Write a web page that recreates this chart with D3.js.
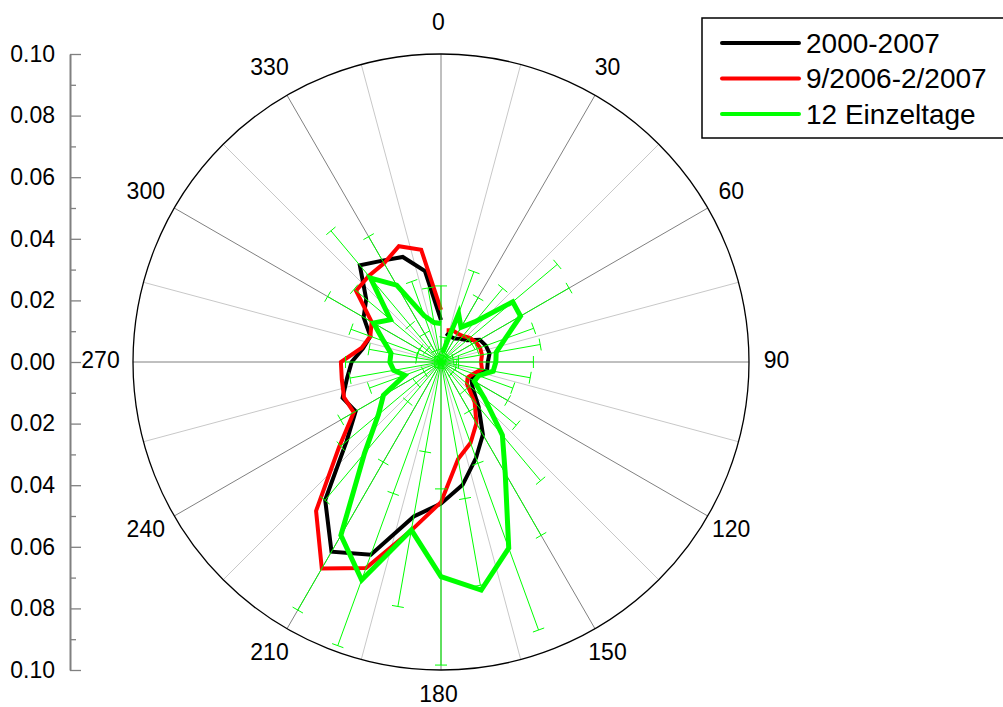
<!DOCTYPE html>
<html>
<head>
<meta charset="utf-8">
<script src="https://cdn.jsdelivr.net/npm/d3@7"></script>
<style>
  body { margin: 0; background: #fff; }
  text { font-family: "Liberation Sans", Arial, sans-serif; }
</style>
</head>
<body>
<svg id="chart" width="1003" height="707"></svg>
<script>
// Wind direction sectors (degrees, clockwise from north)
const angles = [10,20,30,40,50,60,70,80,90,100,110,120,130,140,150,160,170,180,
                190,200,210,220,230,240,250,260,270,280,290,300,310,320,330,340,350,360];

// Relative frequency per sector, 2000-2007
const freq2000to2007 = [0.0094,0.0088,0.0088,0.0098,0.011,0.0145,0.0155,0.016,0.0152,0.0152,0.0118,0.0114,
                        0.0135,0.019,0.0272,0.0332,0.0405,0.046,0.0509,0.0666,0.0711,0.0585,0.040,0.032,
                        0.034,0.031,0.029,0.0257,0.0244,0.029,0.0317,0.041,0.038,0.0363,0.030,0.0136];

// Relative frequency per sector, 9/2006-2/2007
const freq2006to2007 = [0.0105,0.011,0.0107,0.011,0.0122,0.013,0.0135,0.0135,0.013,0.0135,0.0112,0.010,
                        0.011,0.017,0.023,0.028,0.032,0.0455,0.0555,0.0712,0.0774,0.0631,0.0433,0.0327,
                        0.0335,0.0327,0.0325,0.0262,0.0244,0.026,0.036,0.0365,0.037,0.040,0.037,0.0169];

// Mean relative frequency of the 12 single days, with lower / upper bar limits
const freqDays = [0.003,0.0167,0.013,0.017,0.0304,0.0298,0.0222,0.0182,0.0178,0.0172,0.013,0.0125,
                  0.0185,0.031,0.0417,0.0643,0.0752,0.0697,0.0554,0.0753,0.065,0.0386,0.0265,0.0216,
                  0.0125,0.0156,0.0166,0.0165,0.0198,0.0253,0.0214,0.0356,0.0288,0.016,0.013,0.0125];
const freqDaysLow = [-0.002,0.0022,0.002,0.003,0.0114,0.0116,0.0124,0.004,0.0057,0.005,0.0012,0.000,
                     0.005,0.012,0.0184,0.035,0.045,0.0412,0.0296,0.0454,0.0375,0.0168,0.0105,0.0063,
                     0.000,0.001,0.002,0.008,0.008,0.008,0.006,0.0156,0.0106,0.004,0.002,0.0003];
const freqDaysHigh = [0.008,0.0312,0.0241,0.0312,0.0493,0.048,0.032,0.0327,0.030,0.0294,0.0248,0.025,
                      0.0319,0.0503,0.065,0.0926,0.0736,0.0984,0.0806,0.098,0.093,0.0586,0.0425,0.0376,
                      0.0247,0.030,0.031,0.0237,0.0311,0.0425,0.0368,0.0556,0.047,0.0278,0.0244,0.0247];

// Axis labels
const angleTicks = [0,30,60,90,120,150,180,210,240,270,300,330];
const radialMajor = [-0.10,-0.08,-0.06,-0.04,-0.02,0,0.02,0.04,0.06,0.08,0.10];
const radialMinor = [-0.09,-0.07,-0.05,-0.03,-0.01,0.01,0.03,0.05,0.07,0.09];

const seriesNames = ["2000-2007", "9/2006-2/2007", "12 Einzeltage"];
const seriesColors = ["#000000", "#ff0000", "#00ff00"];

const W = 1003, H = 707;
const svg = d3.select("#chart");
const cx = 441, cy = 362, R = 308;

const angleScale = d3.scaleLinear().domain([0, 360]).range([0, 2 * Math.PI]);
const rScale = d3.scaleLinear().domain([0, 0.1]).range([0, R]);

const g = svg.append("g").attr("transform", `translate(${cx},${cy})`);

// Spokes every 15 degrees: darker at 30-degree steps
const spokes = d3.range(0, 360, 15);
g.selectAll("line.spoke").data(spokes).join("line")
  .attr("x1", 0).attr("y1", 0)
  .attr("x2", d => R * Math.sin(angleScale(d)))
  .attr("y2", d => -R * Math.cos(angleScale(d)))
  .attr("stroke", d => d % 30 === 0 ? "#808080" : "#c8c8c8")
  .attr("stroke-width", 1);

// Outer circle
g.append("circle").attr("r", rScale(0.1))
  .attr("fill", "none").attr("stroke", "#000").attr("stroke-width", 1.3);

// Angle labels (kept inside the drawing area at the bottom)
const labelR = R + 30;
const maxLabelY = H - 13 - cy;
g.selectAll("text.ang").data(angleTicks).join("text")
  .attr("x", d => labelR * Math.sin(angleScale(d)) - 2.5)
  .attr("y", d => Math.min(-labelR * Math.cos(angleScale(d)) - 2.5, maxLabelY))
  .attr("text-anchor", "middle")
  .attr("dominant-baseline", "central")
  .attr("font-size", 23)
  .text(d => d);

// Radial axis on the left, mirrored about the centre
const yScale = d3.scaleLinear().domain([0.1, -0.1]).range([cy - R, cy + R]);
const axisX = 70;
const axisMajor = d3.axisLeft(yScale).tickValues(radialMajor)
  .tickSizeInner(-11).tickSizeOuter(0).tickPadding(15)
  .tickFormat(d => Math.abs(d).toFixed(2));
const axG = svg.append("g").attr("transform", `translate(${axisX},0)`).call(axisMajor);
axG.select(".domain").attr("stroke", "#808080").attr("stroke-width", 2);
axG.selectAll(".tick line").attr("stroke", "#808080").attr("stroke-width", 1.3);
axG.selectAll(".tick text").attr("font-size", 23).attr("fill", "#000")
  .attr("font-family", "Liberation Sans, Arial, sans-serif");
const axisMinor = d3.axisLeft(yScale).tickValues(radialMinor)
  .tickSizeInner(-6).tickSizeOuter(0).tickFormat("");
const axMin = svg.append("g").attr("transform", `translate(${axisX},0)`).call(axisMinor);
axMin.select(".domain").remove();
axMin.selectAll(".tick line").attr("stroke", "#808080").attr("stroke-width", 1.3);

// Series lines (open, not closed)
const radialLine = d3.lineRadial()
  .angle(d => angleScale(d[0]))
  .radius(d => rScale(d[1]));

function pts(vals) { return angles.map((a, i) => [a, vals[i]]); }

g.append("path").attr("d", radialLine(pts(freq2000to2007)))
  .attr("fill", "none").attr("stroke", seriesColors[0]).attr("stroke-width", 4)
  .attr("stroke-linejoin", "miter");
g.append("path").attr("d", radialLine(pts(freq2006to2007)))
  .attr("fill", "none").attr("stroke", seriesColors[1]).attr("stroke-width", 4)
  .attr("stroke-linejoin", "miter");

// Bars for the single days: ray from the centre to the upper limit, caps at both limits
const bars = g.append("g");
const capHalf = 6;
angles.forEach((a, i) => {
  const t = angleScale(a);
  const s = Math.sin(t), c = Math.cos(t);
  const rHi = rScale(freqDaysHigh[i]);
  bars.append("line")
    .attr("x1", 0).attr("y1", 0)
    .attr("x2", rHi * s).attr("y2", -rHi * c)
    .attr("stroke", seriesColors[2]).attr("stroke-width", 1);
  [freqDaysLow[i], freqDaysHigh[i]].forEach(v => {
    const rv = rScale(v);
    const px = rv * s, py = -rv * c;
    bars.append("line")
      .attr("x1", px - capHalf * c).attr("y1", py - capHalf * s)
      .attr("x2", px + capHalf * c).attr("y2", py + capHalf * s)
      .attr("stroke", seriesColors[2]).attr("stroke-width", 1);
  });
});

g.append("path").attr("d", radialLine(pts(freqDays)))
  .attr("fill", "none").attr("stroke", seriesColors[2]).attr("stroke-width", 5)
  .attr("stroke-linejoin", "miter");

// Legend
const lg = svg.append("g");
lg.append("rect").attr("x", 702).attr("y", 18).attr("width", 320).attr("height", 120)
  .attr("fill", "#fff").attr("stroke", "#000").attr("stroke-width", 1.5);
seriesNames.forEach((name, i) => {
  const y = 43 + i * 35.5;
  lg.append("line").attr("x1", 722).attr("x2", 799).attr("y1", y).attr("y2", y)
    .attr("stroke", seriesColors[i]).attr("stroke-width", 4).attr("stroke-linecap", "round");
  lg.append("text").attr("x", 806).attr("y", y).attr("dominant-baseline", "central")
    .attr("font-size", 28).text(name);
});
</script>
</body>
</html>
